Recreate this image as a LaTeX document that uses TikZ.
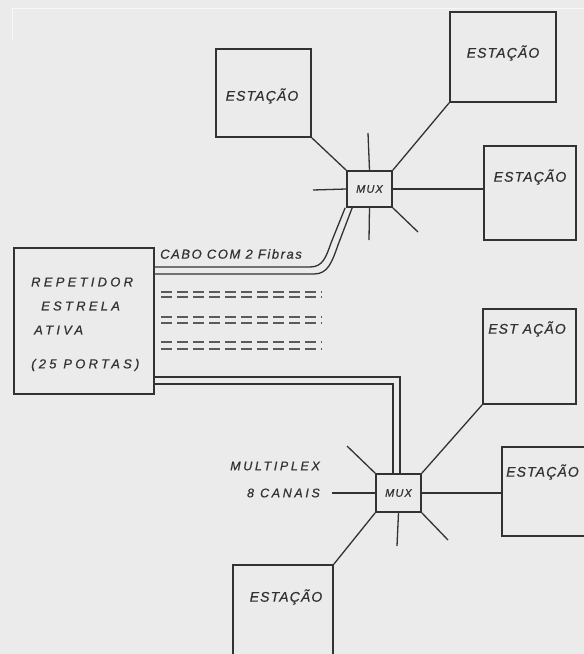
\documentclass[tikz,border=0pt]{standalone}
\usepackage{fontspec}
\usetikzlibrary{calc}
\newfontfamily\handst[LetterSpace=8,FakeBold=0.6]{Liberation Sans}
\newfontfamily\handrep[LetterSpace=25,FakeBold=0.6]{Liberation Sans}
\newfontfamily\handmul[LetterSpace=21,FakeBold=0.6]{Liberation Sans}
\newfontfamily\handcab[LetterSpace=12,FakeBold=0.6]{Liberation Sans}
\newfontfamily\handmux[LetterSpace=10,FakeBold=0.6]{Liberation Sans}
\definecolor{ink}{RGB}{50,50,50}
\definecolor{bg}{RGB}{235,235,235}
\begin{document}
\begin{tikzpicture}[x=1pt,y=-1pt,
  box/.style={draw=ink, line width=1.7pt, inner sep=0pt},
  muxbox/.style={draw=ink, line width=1.7pt, inner sep=0pt, font=\handmux\itshape\fontsize{11}{13}\selectfont, text=ink},
  ln/.style={draw=ink, line width=1.3pt},
  dl/.style={draw=ink!80, line width=1.1pt, dash pattern=on 11pt off 5pt},
  sttext/.style={font=\handst\itshape\fontsize{14}{16}\selectfont, text=ink, inner sep=0pt},
  reptext/.style={font=\handrep\itshape\fontsize{13}{15}\selectfont, text=ink, inner sep=0pt, anchor=west},
  multext/.style={font=\handmul\itshape\fontsize{12.5}{15}\selectfont, text=ink, inner sep=0pt, anchor=east},
  cabtext/.style={font=\handcab\itshape\fontsize{13}{15}\selectfont, text=ink, inner sep=0pt, anchor=west}]
\useasboundingbox (0,0) rectangle (584,654);
\fill[bg] (0,0) rectangle (584,654);
\clip (0,0) rectangle (584,654);
\draw[white!60!bg, line width=0.8pt] (12,40) -- (12,8) -- (584,8);

% boxes
\node[box, minimum width=95pt, minimum height=88pt] (s1) at (263.5,93) {};
\node[box, minimum width=106pt, minimum height=90pt] (s2) at (503,57) {};
\node[box, minimum width=92pt, minimum height=94pt] (s3) at (530,193) {};
\node[box, minimum width=140pt, minimum height=146pt] (rep) at (84,321) {};
\node[box, minimum width=93pt, minimum height=95pt] (s4) at (529.5,356.5) {};
\node[box, minimum width=98pt, minimum height=89pt] (s5) at (551,491.5) {};
\node[box, minimum width=100pt, minimum height=100pt] (s6) at (283,615) {};
\node[muxbox, minimum width=45pt, minimum height=36pt] (m1) at (369.5,189) {MUX};
\node[muxbox, minimum width=45pt, minimum height=38pt] (m2) at (398.5,493) {MUX};

% station labels
\node[sttext] (t1) at (262,96) {ESTAÇÃO};
\node[sttext] (t2) at (503,53) {ESTAÇÃO};
\node[sttext] (t3) at (530,177) {ESTAÇÃO};
\node[sttext] (t4) at (527,329) {EST AÇÃO};
\node[sttext, anchor=west] (t5) at (506,472) {ESTAÇÃO};
\node[sttext] (t6) at (286,597) {ESTAÇÃO};

% repeater text
\node[reptext] (r1) at (31,282) {REPETIDOR};
\node[reptext] (r2) at (41,306) {ESTRELA};
\node[reptext] (r3) at (34,330) {ATIVA};
\node[reptext] (r4) at (31,365) {(25 PORTAS)};

\node[cabtext] (cab) at (160,254) {CABO COM 2 Fibras};
\node[multext] (mu1) at (320,466) {MULTIPLEX};
\node[multext] (mu2) at (320,493) {8 CANAIS};

% connectors top mux
\draw[ln] (s1.south east) -- (m1.north west);
\draw[ln] (s2.south west) -- (m1.north east);
\draw[ln] (m1.east) -- (m1.east -| s3.west);
\coordinate (a1) at (368,133);
\coordinate (a2) at (313,190);
\coordinate (a3) at (369,240);
\coordinate (a4) at (418,232);
\draw[ln] (m1.north) -- (a1);
\draw[ln] (m1.west) -- (a2);
\draw[ln] (m1.south) -- (a3);
\draw[ln] (m1.south east) -- (a4);

% cable top
\draw[ln] ($(m1.south west)+(-1,0)$) -- (331,243) .. controls (326,257) and (323,267) .. (310,267) -- (rep.east |- 0,267);
\draw[ln] ($(m1.south west)+(6,0)$) -- (338,245) .. controls (332,262) and (328,274) .. (314,274) -- (rep.east |- 0,274);

% dashed fibres
\foreach \y in {292,297,317,323,342,349}
  \draw[dl] (161,\y) -- (322,\y);

% cable bottom
\draw[ln] (rep.east |- 0,377) -- (400,377) -- (m2.north -| 400,0);
\draw[ln] (rep.east |- 0,384) -- (393,384) -- (m2.north -| 393,0);

% connectors bottom mux
\draw[ln] (m2.north east) -- (s4.south west);
\draw[ln] (m2.east) -- (m2.east -| s5.west);
\draw[ln] (m2.south west) -- (s6.north east);
\coordinate (b1) at (347,446);
\coordinate (b2) at (332,493);
\coordinate (b3) at (397,546);
\coordinate (b4) at (448,540);
\draw[ln] (m2.north west) -- (b1);
\draw[ln] (m2.west) -- (b2);
\draw[ln] (m2.south) -- (b3);
\draw[ln] (m2.south east) -- (b4);
\end{tikzpicture}
\end{document}
